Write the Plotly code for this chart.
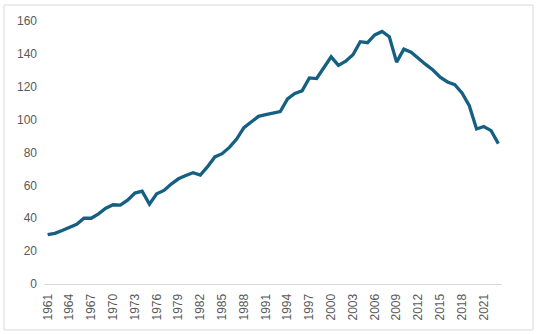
import plotly.graph_objects as go

years = list(range(1961, 2024))
values = [30.0, 30.8, 32.5, 34.3, 36.3, 40.0, 40.0, 42.7, 46.1, 48.2,
          48.0, 51.0, 55.3, 56.5, 48.6, 54.9, 56.9, 60.8, 64.0, 66.0,
          67.7, 66.3, 71.4, 77.3, 79.3, 83.1, 88.2, 95.1, 98.4, 102.0,
          103.0, 103.9, 104.9, 112.6, 115.9, 117.5, 125.4, 125.0, 131.9, 138.2,
          133.0, 135.5, 139.5, 147.4, 146.8, 151.5, 153.6, 150.4, 135.0, 142.9,
          141.0, 137.0, 133.6, 130.2, 125.8, 122.9, 121.3, 116.2, 108.5, 94.3,
          95.8, 93.3, 85.4]
x_ticks = list(range(1961, 2022, 3))
x_tick_labels = [str(y) for y in x_ticks]
y_ticks = [0, 20, 40, 60, 80, 100, 120, 140, 160]

fig = go.Figure()
fig.add_trace(go.Scatter(
    x=years, y=values, mode="lines",
    line=dict(color="#156082", width=3.3),
    hoverinfo="x+y", showlegend=False,
))

fig.update_layout(
    width=550, height=334,
    margin=dict(l=44, r=48, t=21, b=50),
    paper_bgcolor="white", plot_bgcolor="white",
    font=dict(family="Liberation Sans, Arial, sans-serif", size=12, color="#595959"),
    xaxis=dict(
        range=[1960.5, 2023.5],
        tickmode="array", tickvals=x_ticks, ticktext=x_tick_labels,
        tickangle=-90, showgrid=False, zeroline=False,
        showline=True, linecolor="#d9d9d9", linewidth=1,
        ticks="", ticklabelstandoff=4,
        fixedrange=True,
    ),
    yaxis=dict(
        range=[0, 160],
        tickmode="array", tickvals=y_ticks,
        showgrid=False, zeroline=False, showline=False,
        ticks="", ticklabelstandoff=6,
        fixedrange=True,
    ),
    shapes=[dict(
        type="rect", xref="paper", yref="paper",
        x0=-0.0873, x1=1.0677, y0=-0.1749, y1=1.0608,
        line=dict(color="#d9d9d9", width=1), fillcolor="rgba(0,0,0,0)",
        layer="above",
    )],
)

fig.write_html("out.html", config={"displayModeBar": False},
               post_script="document.body.style.margin='0';")
